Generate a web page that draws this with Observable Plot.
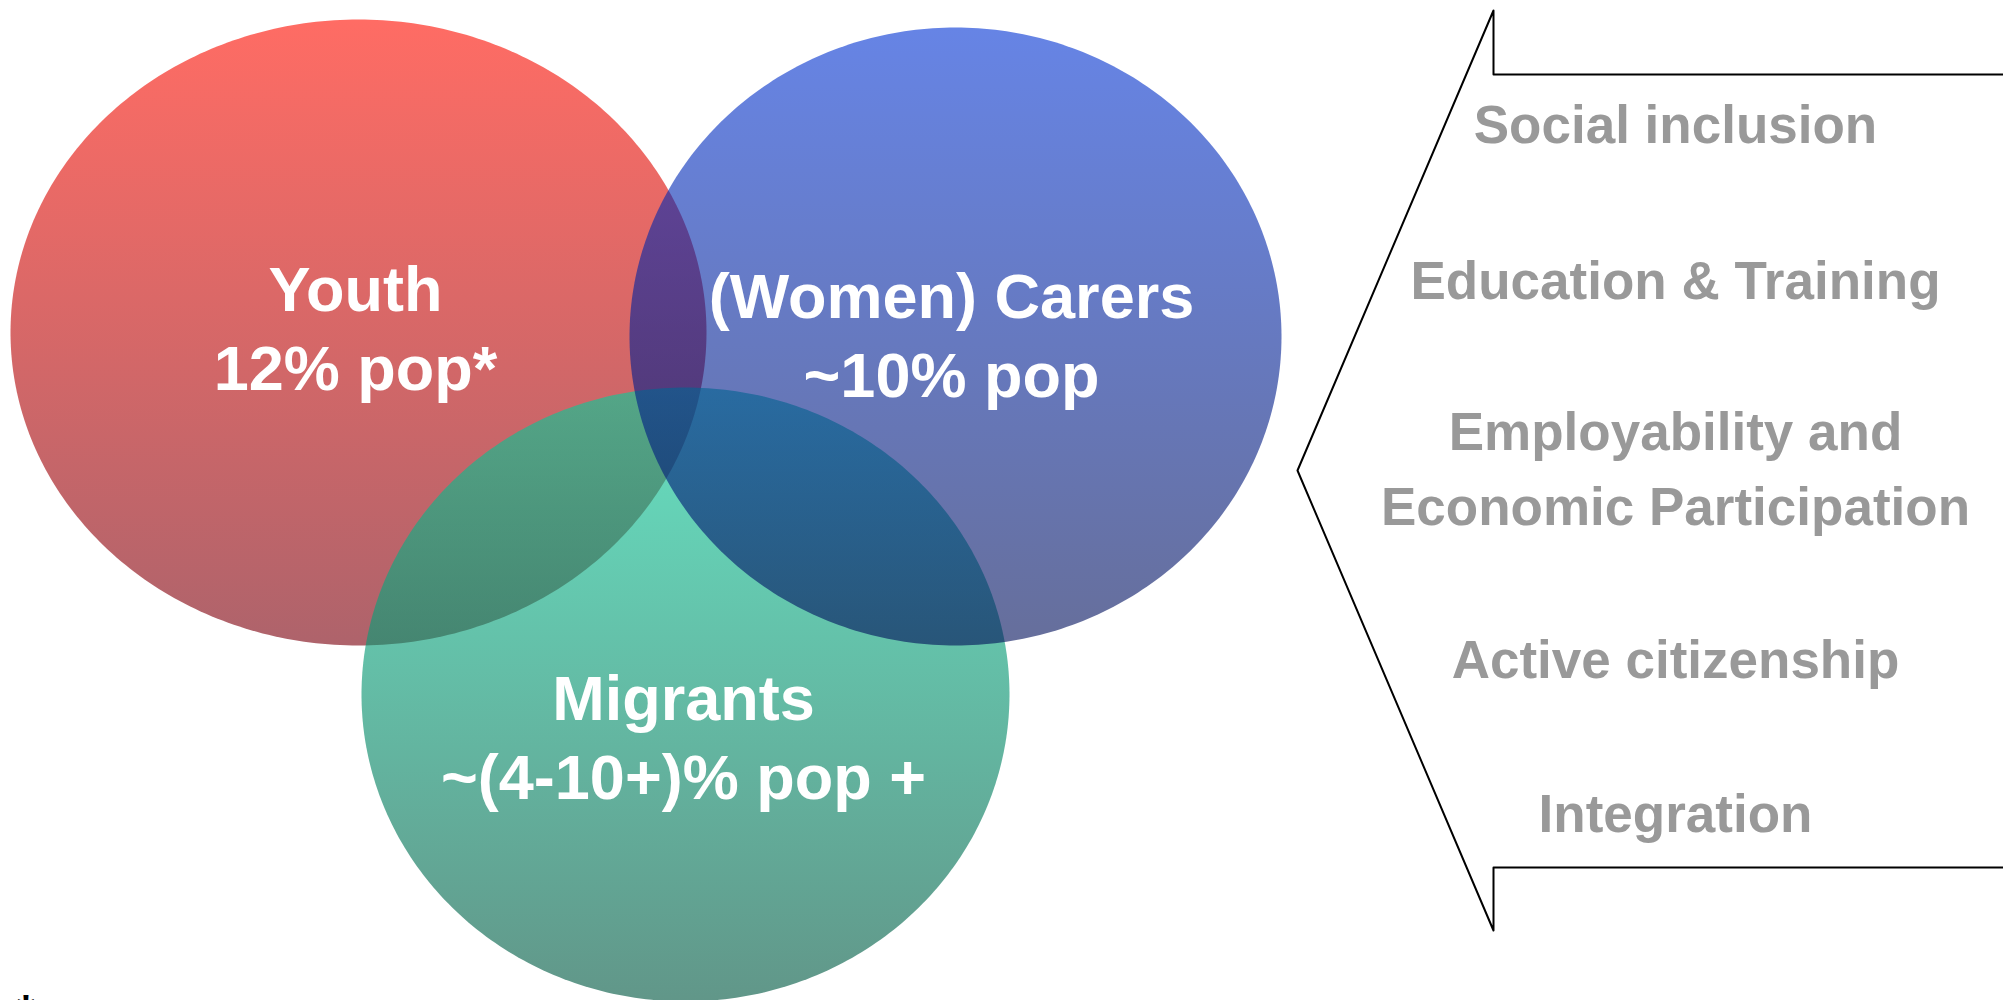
<!DOCTYPE html>
<html>
<head>
<meta charset="utf-8">
<script src="https://cdn.jsdelivr.net/npm/d3@7"></script>
<script src="https://cdn.jsdelivr.net/npm/@observablehq/plot@0.6"></script>
<style>
  html, body { margin: 0; padding: 0; overflow: hidden; background: #fff; }
  #chart svg { display: block; }
</style>
</head>
<body>
<div id="chart"></div>
<script>
// ---- Data ----
const sets = ["Youth", "(Women) Carers", "Migrants"];
const shares = ["12% pop*", "~10% pop", "~(4-10+)% pop +"];
const themes = [
  "Social inclusion",
  "Education & Training",
  "Employability and\nEconomic Participation",
  "Active citizenship",
  "Integration"
];
const footnote = "*";

// ---- Layout (positions / sizes, in the 2003x1000 frame) ----
const ellipseLayout = [
  {cx: 358, cy: 332, rx: 348, ry: 313},  // Youth
  {cx: 955, cy: 336, rx: 326, ry: 309},  // Carers
  {cx: 685, cy: 694, rx: 324, ry: 307}   // Migrants
];
const labelLayout = [
  {x: 355, y: 325},
  {x: 951, y: 332},
  {x: 683, y: 734}
];
const themeX = 1675;
const themeY = [118, 274, 463, 653, 807];
const arrow = {tipX: 1297, tipY: 470, notchX: 1493, top: 10, bottom: 930, upperBar: 74, lowerBar: 867, right: 2003};

// ---- Styles (one per set, same order as sets) ----
const gradients = [
  {id: "gRed",   stops: ["#ff6c64", "#ae636b"], opacity: 1},
  {id: "gBlue",  stops: ["rgb(0,50,212)", "rgb(0,14,88)"], opacity: 0.6},
  {id: "gGreen", stops: ["rgb(8,205,155)", "rgb(0,86,64)"], opacity: 0.62}
];
const drawOrder = [0, 2, 1]; // Youth, Migrants, then Carers on top
const font = "'Liberation Sans', Arial, Helvetica, sans-serif";

// Ellipse outlines derived from the layout
const angles = d3.range(0, 360, 1);
const outline = (e) => angles.map(a => {
  const t = a * Math.PI / 180;
  return {x: e.cx + e.rx * Math.cos(t), y: e.cy + e.ry * Math.sin(t)};
});

const labels = sets.map((s, i) => ({text: s + "\n" + shares[i], ...labelLayout[i]}));
const themeData = themes.map((t, i) => ({text: t, x: themeX, y: themeY[i]}));
const arrowPts = [
  {x: arrow.right, y: arrow.upperBar},
  {x: arrow.notchX, y: arrow.upperBar},
  {x: arrow.notchX, y: arrow.top},
  {x: arrow.tipX, y: arrow.tipY},
  {x: arrow.notchX, y: arrow.bottom},
  {x: arrow.notchX, y: arrow.lowerBar},
  {x: arrow.right, y: arrow.lowerBar}
];

const ellipseMarks = drawOrder.map(i => Plot.line(outline(ellipseLayout[i]), {
  x: "x", y: "y",
  fill: `url(#${gradients[i].id})`,
  fillOpacity: gradients[i].opacity,
  stroke: "none",
  curve: "linear-closed"
}));

const chart = Plot.plot({
  width: 2003,
  height: 1000,
  margin: 0,
  x: {domain: [0, 2003], range: [0, 2003], axis: null},
  y: {domain: [0, 1000], range: [0, 1000], axis: null},
  style: {background: "#fff", fontFamily: font},
  marks: [
    ...ellipseMarks,
    Plot.text(labels, {
      x: "x", y: "y", text: "text",
      fill: "#ffffff", fontSize: 63, fontWeight: "bold",
      lineHeight: 1.25, textAnchor: "middle", fontFamily: font
    }),
    Plot.line(arrowPts, {x: "x", y: "y", stroke: "#000", strokeWidth: 2, curve: "linear"}),
    Plot.text(themeData, {
      x: "x", y: "y", text: "text",
      fill: "#999999", fontSize: 53, fontWeight: "bold",
      lineHeight: 1.415, textAnchor: "middle", fontFamily: font
    }),
    Plot.text([footnote], {
      x: () => 16, y: () => 1012, text: d => d,
      fill: "#000", fontSize: 48, fontWeight: "bold",
      textAnchor: "start", fontFamily: font
    })
  ]
});

// gradient definitions
const ns = "http://www.w3.org/2000/svg";
const defs = document.createElementNS(ns, "defs");
gradients.forEach(g => {
  const lg = document.createElementNS(ns, "linearGradient");
  lg.setAttribute("id", g.id);
  lg.setAttribute("x1", "0"); lg.setAttribute("y1", "0");
  lg.setAttribute("x2", "0"); lg.setAttribute("y2", "1");
  g.stops.forEach((c, k) => {
    const s = document.createElementNS(ns, "stop");
    s.setAttribute("offset", k === 0 ? "0" : "1");
    s.setAttribute("stop-color", c);
    lg.appendChild(s);
  });
  defs.appendChild(lg);
});
chart.insertBefore(defs, chart.firstChild);
document.getElementById("chart").appendChild(chart);
</script>
</body>
</html>
